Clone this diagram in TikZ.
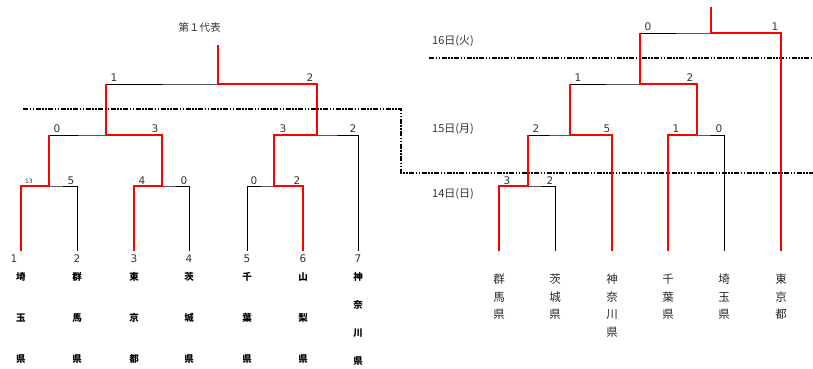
\documentclass[tikz,border=0pt]{standalone}
\usepackage{fontspec}
\setmainfont{DejaVu Sans}
\newfontfamily\jp{Noto Sans CJK JP}
\usetikzlibrary{positioning}

\tikzset{
  bk/.style={line width=0.9pt},
  win/.style={draw=red, line width=2.2pt},
  score/.style={font=\fontsize{10.5}{12}\selectfont, inner sep=0pt, text=black!80},
  lname/.style={font=\jp\bfseries\fontsize{9.5}{41}\selectfont, align=center, inner sep=0pt},
  rname/.style={font=\jp\fontsize{11.5}{17.5}\selectfont, align=center, inner sep=0pt, text=black!85},
  daylabel/.style={font=\jp\fontsize{11}{13}\selectfont, anchor=west, inner sep=0pt, text=black!80},
  daysep/.style={line width=2pt, dash pattern=on 5pt off 1.5pt on 1.5pt off 1.5pt on 1.5pt off 1.5pt},
}

\begin{document}
\begin{tikzpicture}[x=1pt,y=-1pt]
  \useasboundingbox (0,0) rectangle (813,369);

  % left bracket
  \foreach \i/\x in {1/21,2/77,3/134,4/189,5/247,6/303,7/358}
    \coordinate (L\i) at (\x,251);
  \coordinate (m1) at (49,186);
  \coordinate (m2) at (162,186);
  \coordinate (m3) at (274,186);
  \coordinate (s1) at (106,135);
  \coordinate (s2) at (317,135);
  \coordinate (f) at (218,84);
  \coordinate (top) at (218,45);

  \node[font=\jp\fontsize{10.5}{12}\selectfont, text=black!80] (title) at (199.5,27) {第１代表};

  \draw[bk] (L1) |- (m1) -| (L2);
  \draw[bk] (L3) |- (m2) -| (L4);
  \draw[bk] (L5) |- (m3) -| (L6);
  \draw[bk] (m1) |- (s1) -| (m2);
  \draw[bk] (m3) |- (s2) -| (L7);
  \draw[bk] (s1) |- (f) -| (s2);
  \draw[win] (L1) |- (m1) -- (m1 |- s1);
  \draw[win] (L3) |- (m2) |- (s1) -- (s1 |- f);
  \draw[win] (L6) |- (m3) |- (s2) |- (f) -- (top);

  \node[score] (p1) at (114,78) {1};
  \node[score] (p2) at (310,78) {2};
  \node[score] (p3) at (57,129) {0};
  \node[score] (p4) at (155,129) {3};
  \node[score] (p5) at (283,129) {3};
  \node[score] (p6) at (353,129) {2};
  \node[score, font=\fontsize{6}{7}\selectfont] (p7) at (29,181) {13};
  \node[score] (p8) at (71,181) {5};
  \node[score] (p9) at (142,181) {4};
  \node[score] (p10) at (184,181) {0};
  \node[score] (p11) at (254,181) {0};
  \node[score] (p12) at (297,181) {2};

  \node[score, below=4pt of L1, xshift=-7pt] (n1) {1};
  \node[score, below=4pt of L2] (n2) {2};
  \node[score, below=4pt of L3] (n3) {3};
  \node[score, below=4pt of L4] (n4) {4};
  \node[score, below=4pt of L5] (n5) {5};
  \node[score, below=4pt of L6] (n6) {6};
  \node[score, below=4pt of L7] (n7) {7};

  \node[lname, below=21pt of L1] (t1) {埼\\玉\\県};
  \node[lname, below=21pt of L2] (t2) {群\\馬\\県};
  \node[lname, below=21pt of L3] (t3) {東\\京\\都};
  \node[lname, below=21pt of L4] (t4) {茨\\城\\県};
  \node[lname, below=21pt of L5] (t5) {千\\葉\\県};
  \node[lname, below=21pt of L6] (t6) {山\\梨\\県};
  \node[lname, font=\jp\bfseries\fontsize{9.5}{28}\selectfont, below=21pt of L7] (t7) {神\\奈\\川\\県};

  % day separators
  \draw[daysep] (23,109) -- (401,109) -- (401,173) -- (813,173);
  \draw[daysep] (429,58) -- (813,58);

  \node[daylabel] (d16) at (432,41) {16日(火)};
  \node[daylabel] (d15) at (432,129) {15日(月)};
  \node[daylabel] (d14) at (432,194) {14日(日)};

  % right bracket
  \foreach \i/\x in {1/499,2/555,3/612,4/668,5/724,6/781}
    \coordinate (R\i) at (\x,251);
  \coordinate (a1) at (528,186);
  \coordinate (b1) at (570,135);
  \coordinate (b2) at (697,135);
  \coordinate (c) at (640,84);
  \coordinate (d) at (711,33);
  \coordinate (top2) at (711,7);

  \draw[bk] (R1) |- (a1) -| (R2);
  \draw[bk] (a1) |- (b1) -| (R3);
  \draw[bk] (R4) |- (b2) -| (R5);
  \draw[bk] (b1) |- (c) -| (b2);
  \draw[bk] (c) |- (d) -| (R6);
  \draw[win] (R1) |- (a1) -- (a1 |- b1);
  \draw[win] (R3) |- (b1) -- (b1 |- c);
  \draw[win] (R4) |- (b2) |- (c) -- (c |- d);
  \draw[win] (R6) |- (d) -- (top2);

  \node[score] (q1) at (648,27) {0};
  \node[score] (q2) at (775,27) {1};
  \node[score] (q3) at (578,78) {1};
  \node[score] (q4) at (690,78) {2};
  \node[score] (q5) at (536,129) {2};
  \node[score] (q6) at (607,129) {5};
  \node[score] (q7) at (676,129) {1};
  \node[score] (q8) at (719,129) {0};
  \node[score] (q9) at (507,181) {3};
  \node[score] (q10) at (550,181) {2};

  \node[rname, below=23pt of R1] (u1) {群\\馬\\県};
  \node[rname, below=23pt of R2] (u2) {茨\\城\\県};
  \node[rname, below=23pt of R3] (u3) {神\\奈\\川\\県};
  \node[rname, below=23pt of R4] (u4) {千\\葉\\県};
  \node[rname, below=23pt of R5] (u5) {埼\\玉\\県};
  \node[rname, below=23pt of R6] (u6) {東\\京\\都};
\end{tikzpicture}
\end{document}
